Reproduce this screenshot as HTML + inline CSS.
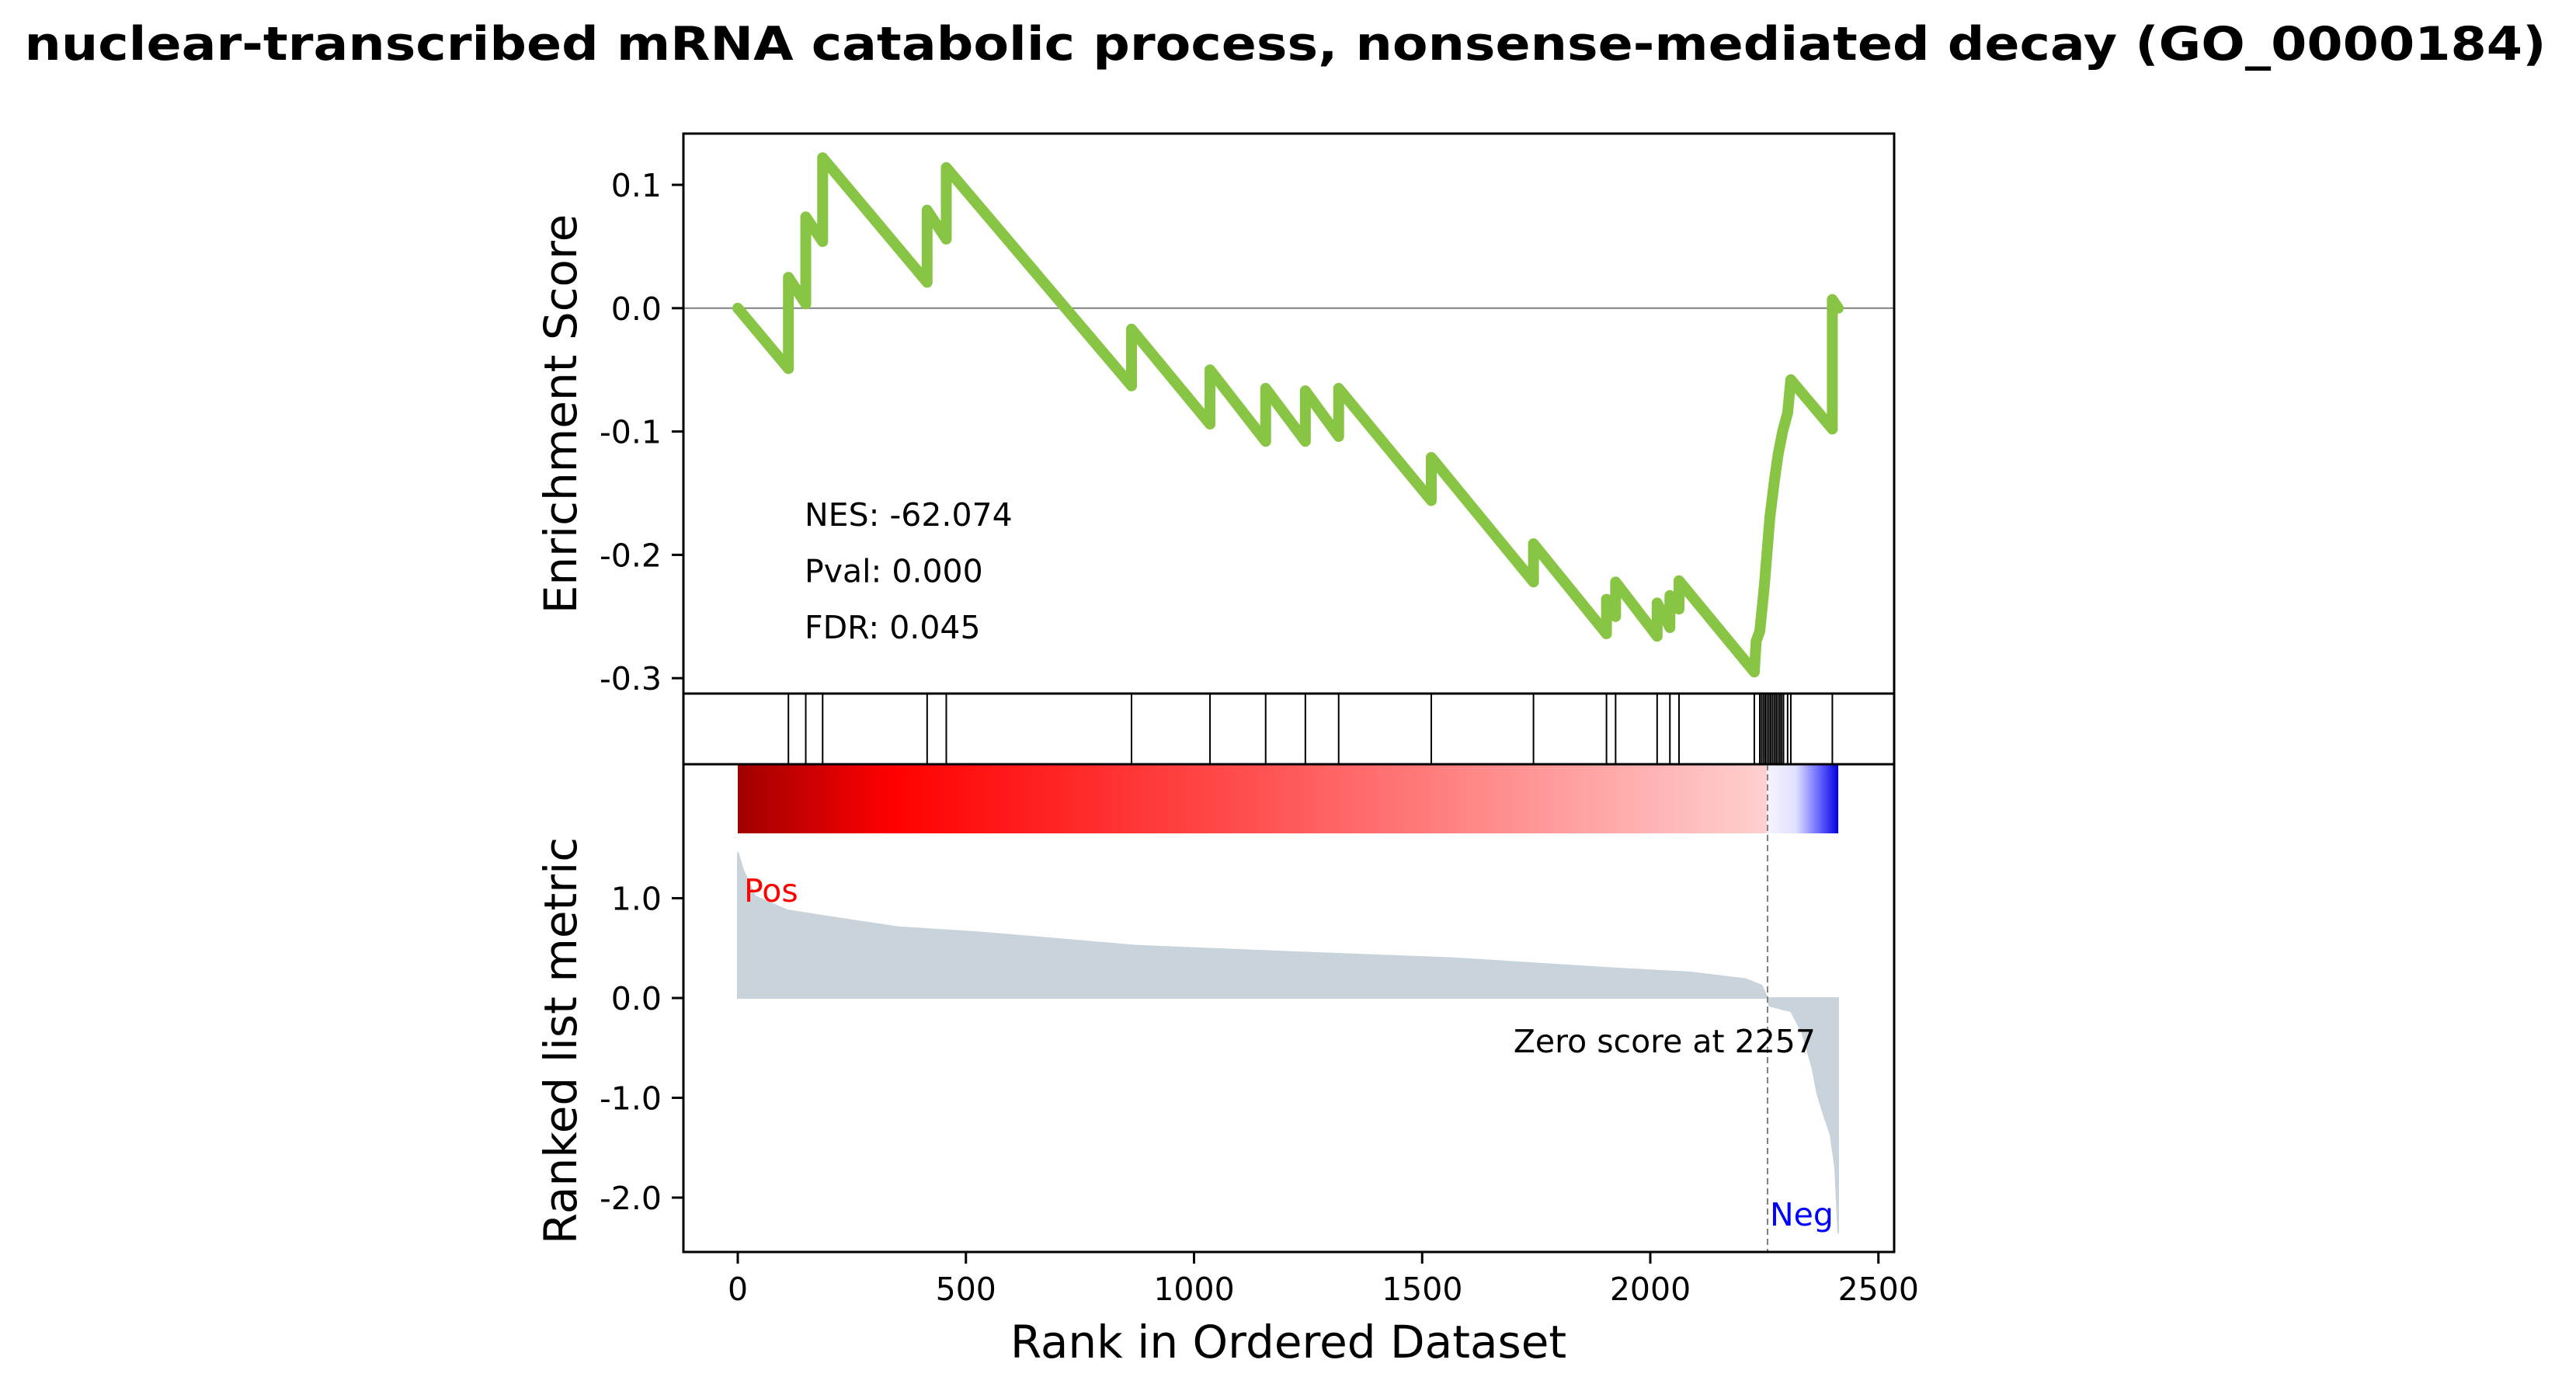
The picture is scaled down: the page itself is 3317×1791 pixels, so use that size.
<!DOCTYPE html>
<html><head><meta charset="utf-8"><style>
html,body{margin:0;padding:0;background:#fff;}
svg text{font-family:"DejaVu Sans","Liberation Sans",sans-serif;}
</style></head><body>
<svg id="chart" width="3317" height="1786" viewBox="0 0 3317 1786" xmlns="http://www.w3.org/2000/svg">
<rect width="3317" height="1786" fill="#fff"/>
<text x="1655" y="77" text-anchor="middle" font-size="60" font-weight="bold" textLength="3247" lengthAdjust="spacingAndGlyphs">nuclear-transcribed mRNA catabolic process, nonsense-mediated decay (GO_0000184)</text>
<g id="topPanel"></g><g id="hitsPanel"></g><g id="bottomPanel"></g>
</svg>
<script>
const esRanks = [0,111,111,149,149,186,186,415,415,457,457,863,863,1035,1035,1157,1157,1244,1244,1317,1317,1520,1520,1744,1744,1904,1904,1924,1924,2015,2015,2043,2043,2063,2063,2228,2232,2240,2250,2262,2272,2280,2290,2301,2308,2399,2399,2412];
const esValues = [0,-0.049,0.025,0.0035,0.074,0.054,0.122,0.021,0.0795,0.056,0.114,-0.063,-0.017,-0.094,-0.050,-0.108,-0.065,-0.108,-0.067,-0.104,-0.065,-0.156,-0.121,-0.222,-0.191,-0.264,-0.236,-0.250,-0.222,-0.266,-0.239,-0.259,-0.233,-0.244,-0.221,-0.295,-0.270,-0.262,-0.225,-0.170,-0.140,-0.119,-0.100,-0.085,-0.058,-0.098,0.007,0];
const hitRanks = [111,149,186,415,457,863,1035,1157,1244,1317,1520,1744,1904,1924,2015,2043,2063,2228,2240,2244,2248,2252,2256,2260,2264,2268,2272,2276,2280,2284,2288,2292,2301,2308,2399];
const metricRanks = [0,12,38,108,177,264,351,525,872,1219,1567,1914,2088,2209,2244,2257,2261,2296,2308,2333,2355,2366,2380,2395,2405,2412];
const metricValues = [1.46,1.28,1.02,0.88,0.83,0.77,0.71,0.66,0.525,0.46,0.40,0.30,0.257,0.19,0.125,0,-0.078,-0.12,-0.13,-0.35,-0.7,-0.96,-1.17,-1.37,-1.7,-2.36];
const esTicks = [0.1,0.0,-0.1,-0.2,-0.3];
const metricTicks = [1.0,0.0,-1.0,-2.0];
const xTicks = [0,500,1000,1500,2000,2500];
const zeroRank = 2257;
const nGenes = 2412;
const stats = ["NES: -62.074","Pval: 0.000","FDR: 0.045"];

const NS="http://www.w3.org/2000/svg";
const L=880,R=2439,T1=172,B1=893,B2=984,B3=1612;
const FS=41;
const xs=r=>950+r*0.5875;
const yE=v=>396.8-v*1588;
const yM=v=>1285-v*128.5;
function mk(tag,attrs,parent,txt){const e=document.createElementNS(NS,tag);for(const k in attrs)e.setAttribute(k,attrs[k]);if(txt!==undefined)e.textContent=txt;parent.appendChild(e);return e;}
const svgEl=document.getElementById('chart');
const gTop=document.getElementById('topPanel'),gHits=document.getElementById('hitsPanel'),gBot=document.getElementById('bottomPanel');

let zl=mk('line',{x1:L,x2:R,y1:yE(0),y2:yE(0),stroke:'#808080','stroke-width':2},gTop);


let pts=esRanks.map((r,i)=>xs(r)+','+yE(esValues[i])).join(' ');
let es=mk('polyline',{points:pts,fill:'none',stroke:'#88c544','stroke-width':14,'stroke-linejoin':'round','stroke-linecap':'round'},gTop);


esTicks.forEach(t=>{
  let tk=mk('line',{x1:L-15,x2:L,y1:yE(t),y2:yE(t),stroke:'#000','stroke-width':3},gTop);
  
  
  let tl=mk('text',{x:L-28,y:yE(t)+15,'text-anchor':'end','font-size':FS},gTop,t.toFixed(1));
  
  
});
stats.forEach((s,i)=>{
  let st=mk('text',{x:1036,y:677+i*72.5,'font-size':FS},gTop,s);
  
  
});
let yl1=mk('text',{x:0,y:0,'font-size':58,'text-anchor':'middle',transform:'translate(742,533) rotate(-90)'},gTop,'Enrichment Score');


let f1=mk('rect',{x:L,y:T1,width:R-L,height:B1-T1,fill:'none',stroke:'#000','stroke-width':3},gTop);



hitRanks.forEach(r=>{
  let h=mk('line',{x1:xs(r),x2:xs(r),y1:B1,y2:B2,stroke:'#000','stroke-width':2},gHits);
  
  
});
let f2=mk('rect',{x:L,y:B1,width:R-L,height:B2-B1,fill:'none',stroke:'#000','stroke-width':3},gHits);



const defs=mk('defs',{},svgEl);
const grad=mk('linearGradient',{id:'grad',x1:0,x2:1,y1:0,y2:0},defs);
const zf=zeroRank/nGenes;
[[0,'#a00000'],[0.14,'#ff0000'],[zf*0.5,'#ff5050'],[zf*0.999,'#ffd0d0'],[zf,'#f4f4ff'],[zf+(1-zf)*0.4,'#e0e0ff'],[zf+(1-zf)*0.75,'#6060ff'],[1,'#0000dd']].forEach(s=>mk('stop',{offset:s[0],'stop-color':s[1]},grad));
let gb=mk('rect',{x:xs(0),y:B2,width:xs(nGenes)-xs(0),height:89,fill:'url(#grad)'},gBot);


let mp=[xs(metricRanks[0])+','+yM(0)].concat(metricRanks.map((r,i)=>xs(r)+','+yM(metricValues[i]))).concat([xs(metricRanks[metricRanks.length-1])+','+yM(0)]).join(' ');
let mf=mk('polygon',{points:mp,fill:'#c9d3db',stroke:'#c9d3db','stroke-width':2},gBot);


let dl=mk('line',{x1:xs(zeroRank),x2:xs(zeroRank),y1:B2,y2:B3,stroke:'#808080','stroke-width':2,'stroke-dasharray':'8,5'},gBot);


let zt=mk('text',{x:xs(zeroRank)+62,y:1355,'font-size':FS,'text-anchor':'end'},gBot,'Zero score at '+zeroRank);


let pt=mk('text',{x:958,y:1161,'font-size':FS,fill:'#ff0000'},gBot,'Pos');


let nt=mk('text',{x:2279,y:1578,'font-size':FS,fill:'#0000ff'},gBot,'Neg');


metricTicks.forEach(t=>{
  let tk=mk('line',{x1:L-15,x2:L,y1:yM(t),y2:yM(t),stroke:'#000','stroke-width':3},gBot);
  
  
  let tl=mk('text',{x:L-28,y:yM(t)+15,'text-anchor':'end','font-size':FS},gBot,t.toFixed(1));
  
  
});
xTicks.forEach(t=>{
  let tk=mk('line',{x1:xs(t),x2:xs(t),y1:B3,y2:B3+15,stroke:'#000','stroke-width':3},gBot);
  
  
  let tl=mk('text',{x:xs(t),y:1674,'text-anchor':'middle','font-size':FS},gBot,String(t));
  
  
});
let yl2=mk('text',{x:0,y:0,'font-size':58,'text-anchor':'middle',transform:'translate(742,1340) rotate(-90)'},gBot,'Ranked list metric');


let xl=mk('text',{x:1659,y:1748,'font-size':58,'text-anchor':'middle'},gBot,'Rank in Ordered Dataset');


let f3=mk('rect',{x:L,y:B2,width:R-L,height:B3-B2,fill:'none',stroke:'#000','stroke-width':3},gBot);


</script>
</body></html>
